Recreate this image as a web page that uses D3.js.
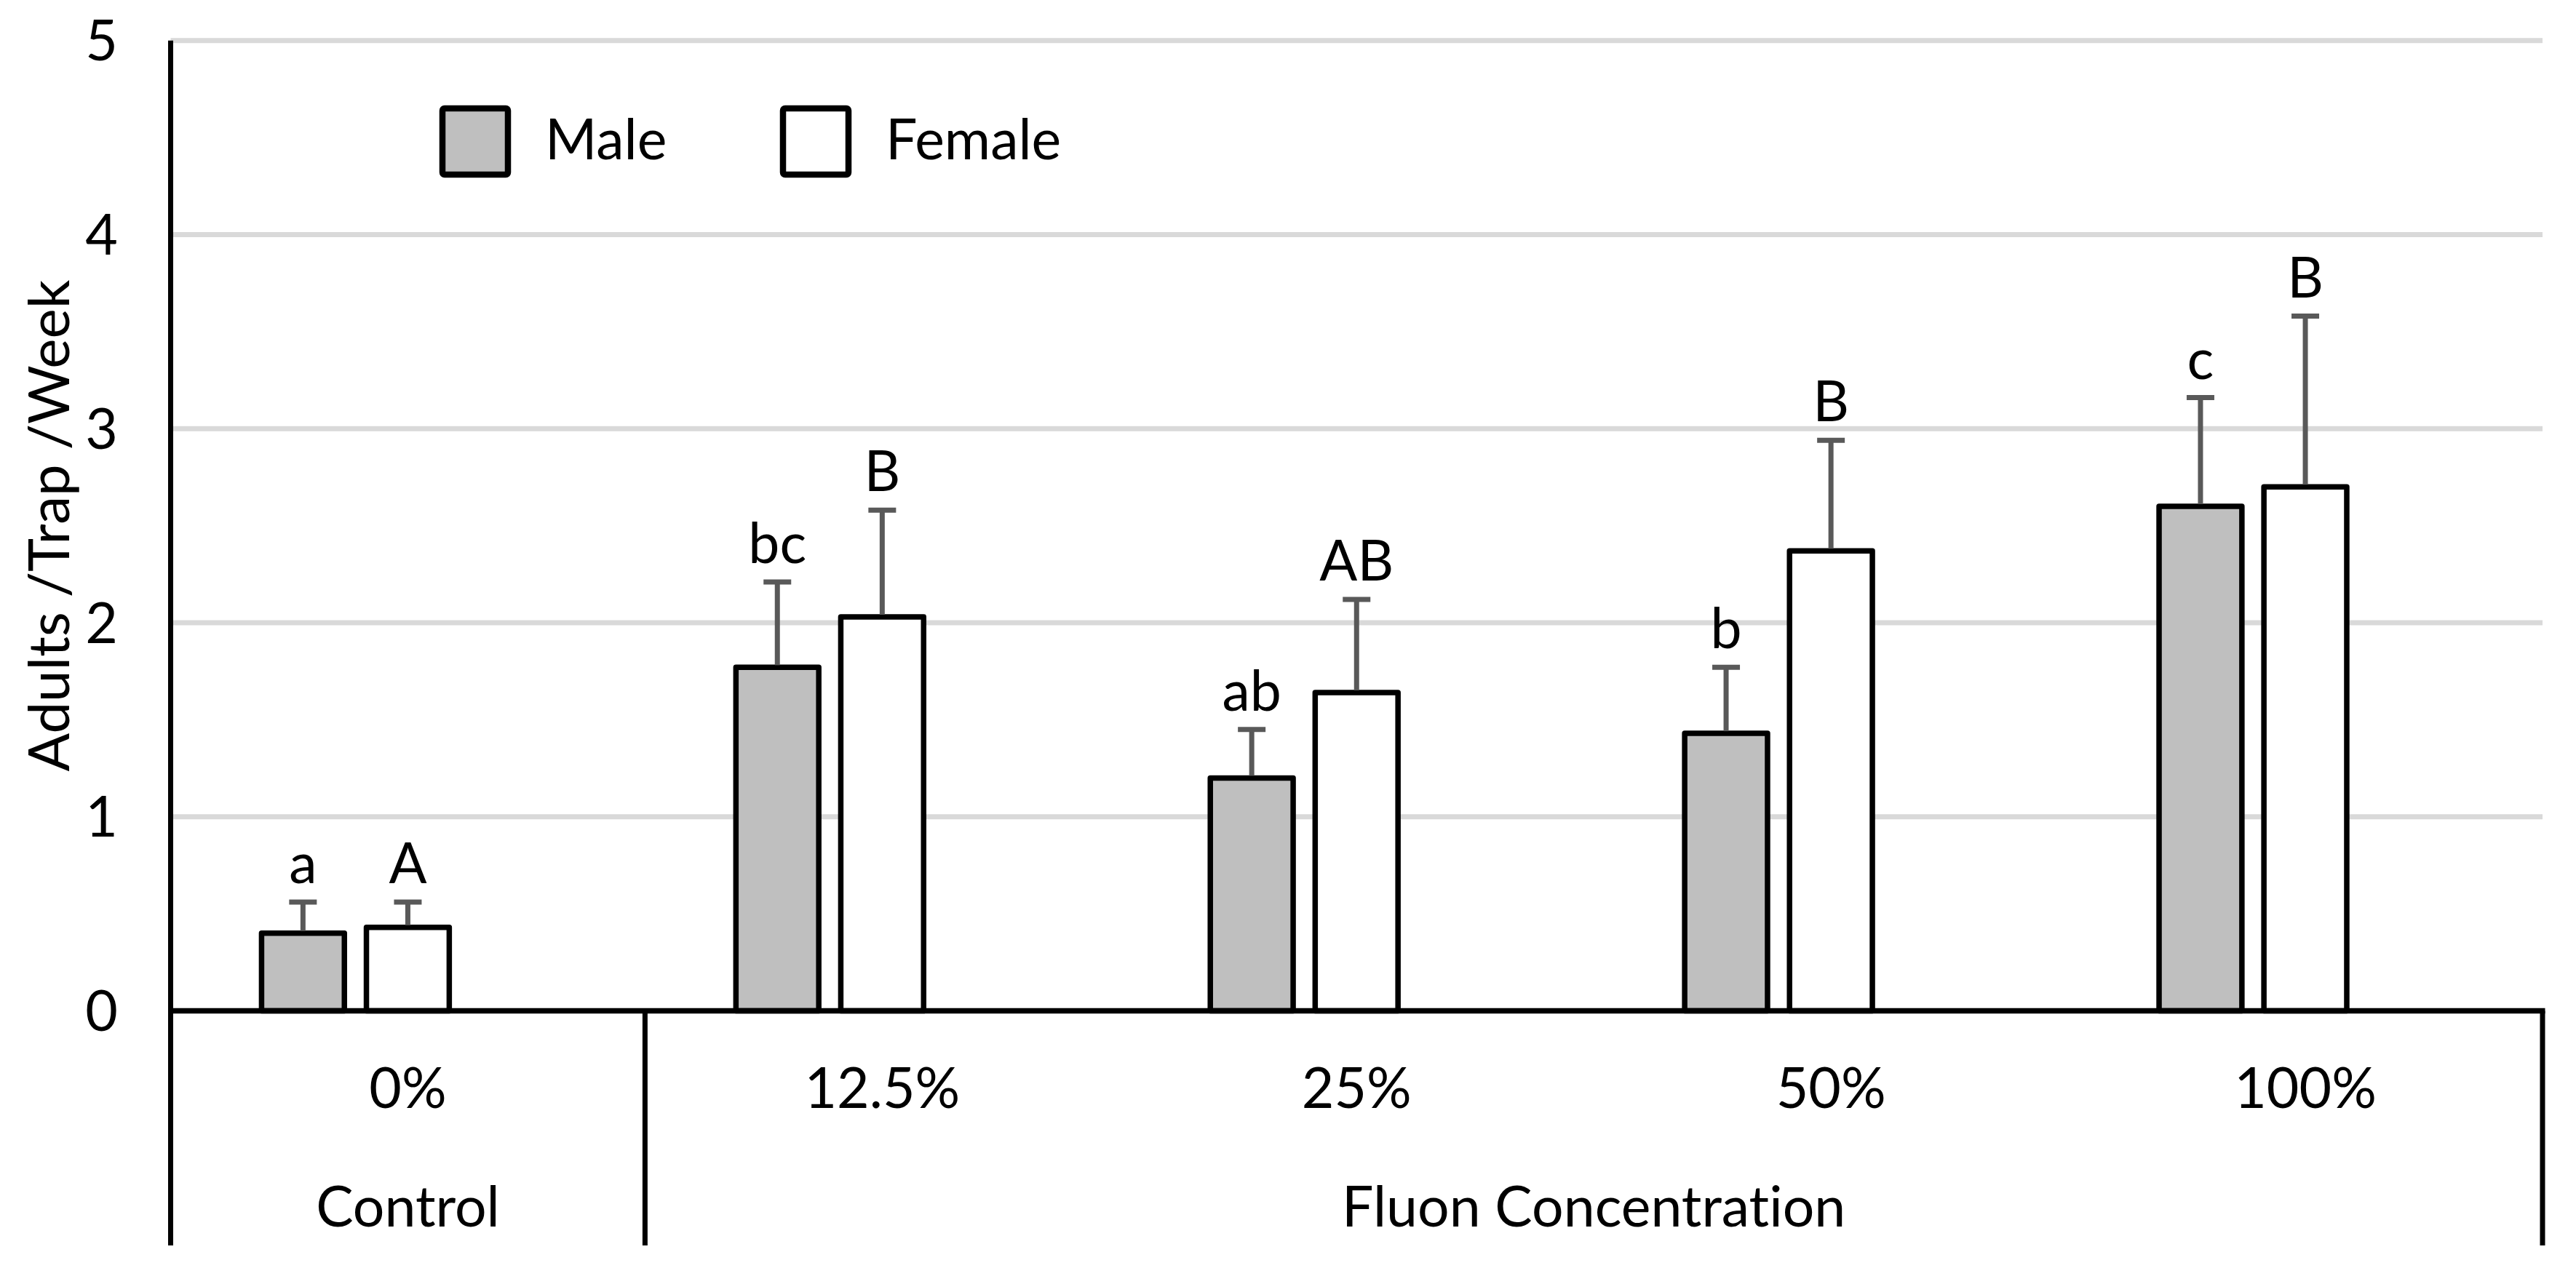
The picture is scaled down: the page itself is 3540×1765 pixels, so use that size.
<!DOCTYPE html>
<html>
<head>
<meta charset="utf-8">
<script src="https://cdn.jsdelivr.net/npm/d3@7"></script>
<style>
  html, body { margin: 0; padding: 0; background: #fff; }
  svg { display: block; }
  text { font-family: Lato, "Noto Sans", sans-serif; fill: #000; font-variant-ligatures: none; font-feature-settings: "liga" 0; }
</style>
</head>
<body>
<svg id="chart" width="3540" height="1765"></svg>
<script>
// ---- data ----
const categories = ["0%", "12.5%", "25%", "50%", "100%"];
const groupLabels = ["Control", "Fluon Concentration"];
const groupSizes = [1, 4];
const seriesNames = ["Male", "Female"];
const maleMeans = [0.40, 1.77, 1.20, 1.43, 2.60];
const maleErrors = [0.16, 0.44, 0.25, 0.34, 0.56];
const femaleMeans = [0.43, 2.03, 1.64, 2.37, 2.70];
const femaleErrors = [0.13, 0.55, 0.48, 0.57, 0.88];
const maleLetters = ["a", "bc", "ab", "b", "c"];
const femaleLetters = ["A", "B", "AB", "B", "B"];
const yTicks = [0, 1, 2, 3, 4, 5];
const yTitle = "Adults /Trap /Week";

// ---- layout ----
const W = 3540, H = 1765;
const plotLeft = 234.5, plotRight = 3494, y0 = 1389.5, yTop = 55.75, axisBottom = 1712;
const FS = 77;
const fills = { Male: "#bfbfbf", Female: "#ffffff" };

const svg = d3.select("#chart");

const y = d3.scaleLinear().domain([0, 5]).range([y0, yTop]);
const x0 = d3.scaleBand().domain(categories).range([plotLeft, plotRight]).paddingInner(0).paddingOuter(0);
// Excel-style cluster: two visible series plus one empty slot
const slots = [...seriesNames, "_empty"];
const x1 = d3.scaleBand().domain(slots).range([0, x0.bandwidth()]).paddingInner(0.21).paddingOuter(0.867);

// gridlines
svg.append("g").selectAll("line").data(yTicks.filter(t => t > 0)).join("line")
  .attr("x1", plotLeft).attr("x2", plotRight)
  .attr("y1", d => y(d)).attr("y2", d => y(d))
  .attr("stroke", "#d9d9d9").attr("stroke-width", 7);

// y tick labels
svg.append("g").selectAll("text").data(yTicks).join("text")
  .attr("x", 162).attr("y", d => y(d))
  .attr("dy", "0.36em")
  .attr("text-anchor", "end")
  .attr("font-size", FS)
  .text(d => d);

// y title
svg.append("text")
  .attr("transform", `translate(95, ${(y0 + yTop) / 2}) rotate(-90)`)
  .attr("text-anchor", "middle")
  .attr("font-size", FS + 1)
  .text(yTitle);

// bars
const rows = categories.map((c, i) => ({
  cat: c,
  items: [
    { s: "Male", v: maleMeans[i], e: maleErrors[i], l: maleLetters[i] },
    { s: "Female", v: femaleMeans[i], e: femaleErrors[i], l: femaleLetters[i] }
  ]
}));

const g = svg.append("g").selectAll("g").data(rows).join("g")
  .attr("transform", d => `translate(${x0(d.cat)},0)`);

g.selectAll("rect").data(d => d.items).join("rect")
  .attr("x", d => x1(d.s)).attr("width", x1.bandwidth())
  .attr("y", d => y(d.v)).attr("height", d => y(0) - y(d.v))
  .attr("fill", d => fills[d.s])
  .attr("stroke", "#000").attr("stroke-width", 7.5).attr("stroke-linejoin", "round");

// error bars
const eb = g.selectAll("g.err").data(d => d.items).join("g").attr("class", "err");
eb.append("line")
  .attr("x1", d => x1(d.s) + x1.bandwidth() / 2).attr("x2", d => x1(d.s) + x1.bandwidth() / 2)
  .attr("y1", d => y(d.v) - 3).attr("y2", d => y(d.v + d.e))
  .attr("stroke", "#595959").attr("stroke-width", 7);
eb.append("line")
  .attr("x1", d => x1(d.s) + x1.bandwidth() / 2 - 19).attr("x2", d => x1(d.s) + x1.bandwidth() / 2 + 19)
  .attr("y1", d => y(d.v + d.e)).attr("y2", d => y(d.v + d.e))
  .attr("stroke", "#595959").attr("stroke-width", 7);

// letters
g.selectAll("text.lbl").data(d => d.items).join("text").attr("class", "lbl")
  .attr("x", d => x1(d.s) + x1.bandwidth() / 2)
  .attr("y", d => y(d.v + d.e) - 26)
  .attr("text-anchor", "middle")
  .attr("font-size", FS)
  .text(d => d.l);

// x axis line
svg.append("line").attr("x1", plotLeft - 3.5).attr("x2", plotRight + 3.5)
  .attr("y1", y0).attr("y2", y0).attr("stroke", "#000").attr("stroke-width", 7.5);

// y axis line
svg.append("line").attr("x1", plotLeft).attr("x2", plotLeft)
  .attr("y1", yTop).attr("y2", axisBottom).attr("stroke", "#000").attr("stroke-width", 7);

// category tick labels
svg.append("g").selectAll("text").data(categories).join("text")
  .attr("x", d => x0(d) + x0.bandwidth() / 2).attr("y", 1523)
  .attr("text-anchor", "middle").attr("font-size", FS)
  .text(d => d);

// group dividers and labels
let idx = 0;
const groups = groupLabels.map((lab, i) => {
  const start = x0(categories[idx]);
  idx += groupSizes[i];
  const end = x0(categories[idx - 1]) + x0.bandwidth();
  return { lab, start, end };
});
svg.append("g").selectAll("line").data(groups).join("line")
  .attr("x1", d => d.end).attr("x2", d => d.end)
  .attr("y1", y0).attr("y2", axisBottom)
  .attr("stroke", "#000").attr("stroke-width", 7);
svg.append("g").selectAll("text").data(groups).join("text")
  .attr("x", d => (d.start + d.end) / 2).attr("y", 1686)
  .attr("text-anchor", "middle").attr("font-size", FS)
  .text(d => d.lab);

// legend
const leg = svg.append("g").selectAll("g").data(seriesNames).join("g")
  .attr("transform", (d, i) => `translate(${608 + i * 468},149)`);
leg.append("rect").attr("width", 90).attr("height", 91)
  .attr("fill", d => fills[d]).attr("stroke", "#000").attr("stroke-width", 8.5)
  .attr("rx", 3).attr("stroke-linejoin", "round");
leg.append("text").attr("x", 141).attr("y", 70).attr("font-size", FS).text(d => d);
</script>
</body>
</html>
